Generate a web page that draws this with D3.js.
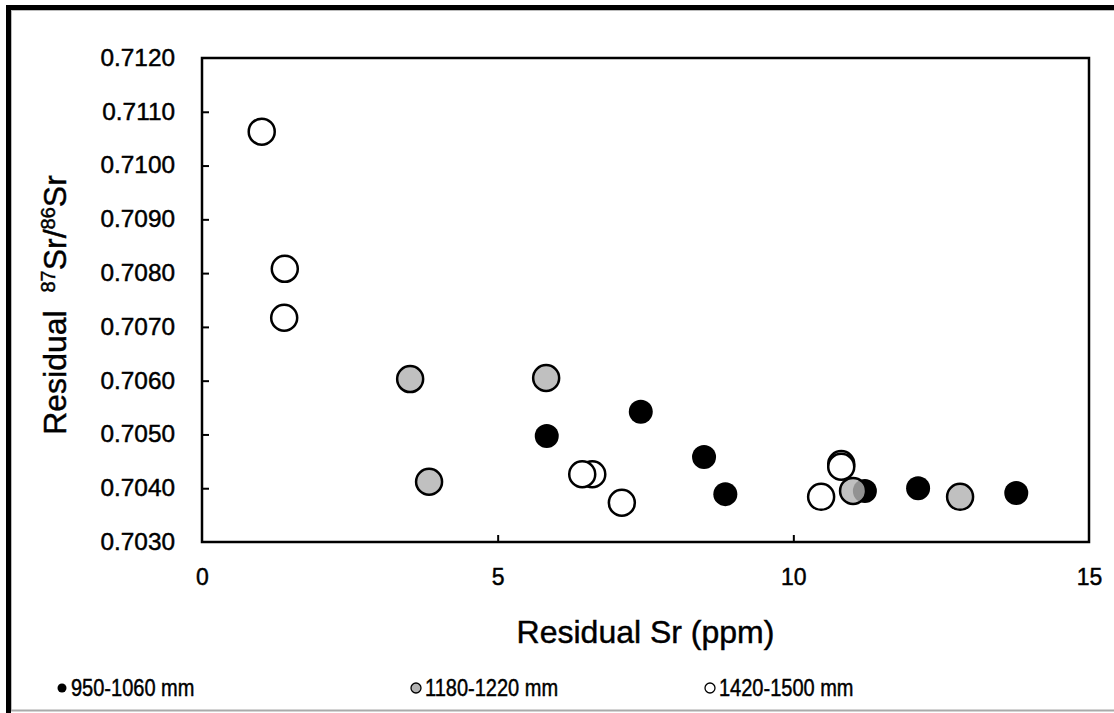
<!DOCTYPE html>
<html><head><meta charset="utf-8">
<script src="https://cdn.jsdelivr.net/npm/d3@7"></script>
<style>body{margin:0;background:#fff;} svg{display:block;} text{font-family:"Liberation Sans",Arial,sans-serif;fill:#000;stroke:#000;stroke-width:0.45px;}</style>
</head><body><svg id="c" width="1114" height="713"></svg>
<script>
const seriesNames = ["950-1060 mm", "1180-1220 mm", "1420-1500 mm"];
const blackX = [5.83, 7.42, 8.49, 8.85, 11.21, 12.11, 13.77];
const blackY = [0.70497, 0.70542, 0.70458, 0.70389, 0.70395, 0.70400, 0.70391];
const grayX = [3.52, 5.82, 3.84, 11.01, 12.82];
const grayY = [0.70603, 0.70605, 0.70412, 0.70395, 0.70384];
const whiteX = [1.01, 1.40, 1.39, 6.60, 6.43, 7.10, 10.47, 10.81, 10.81];
const whiteY = [0.71063, 0.70808, 0.70717, 0.70426, 0.70426, 0.70373, 0.70384, 0.70445, 0.70440];
const xTicks = [0, 5, 10, 15];
const yTicks = [0.7030, 0.7040, 0.7050, 0.7060, 0.7070, 0.7080, 0.7090, 0.7100, 0.7110, 0.7120];

const svg = d3.select("#c");
// outer frame
svg.append("rect").attr("x",0).attr("y",0).attr("width",1114).attr("height",713).attr("fill","#fff");
svg.append("line").attr("x1",11.5).attr("x2",11.5).attr("y1",10).attr("y2",711).attr("stroke","#bbb").attr("stroke-width",1);
svg.append("line").attr("x1",11).attr("x2",1114).attr("y1",710.5).attr("y2",710.5).attr("stroke","#aaa").attr("stroke-width",2);
svg.append("rect").attr("x",6).attr("y",5).attr("width",5).attr("height",708).attr("fill","#000");
svg.append("rect").attr("x",6).attr("y",5).attr("width",1108).attr("height",5).attr("fill","#000");
svg.append("line").attr("x1",11).attr("x2",1114).attr("y1",10.5).attr("y2",10.5).attr("stroke","#bbb").attr("stroke-width",1);

const L = 202, R = 1089, T = 58, B = 542;
const x = d3.scaleLinear().domain([0, 15]).range([L, R]);
const y = d3.scaleLinear().domain([0.7030, 0.7120]).range([B, T]);

// plot box
svg.append("rect").attr("x",L).attr("y",T).attr("width",R-L).attr("height",B-T)
  .attr("fill","none").attr("stroke","#000").attr("stroke-width",2.5);

const yAxis = d3.axisLeft(y).tickValues(yTicks).tickFormat(d3.format(".4f")).tickSizeInner(-7).tickSizeOuter(0).tickPadding(27);
const gy = svg.append("g").attr("transform",`translate(${L},0)`).call(yAxis);
gy.select(".domain").remove();
gy.selectAll(".tick line").attr("stroke","#000").attr("stroke-width",2);
gy.selectAll(".tick text").style("font-size","23px").attr("transform","scale(1.06,1)").attr("x", -27/1.06);
gy.selectAll(".tick").filter(d => d === 0.7030 || d === 0.7120).select("line").remove();

const xAxis = d3.axisBottom(x).tickValues(xTicks).tickFormat(d3.format("d")).tickSizeInner(-7).tickSizeOuter(0).tickPadding(27);
const gx = svg.append("g").attr("transform",`translate(0,${B})`).call(xAxis);
gx.select(".domain").remove();
gx.selectAll(".tick line").attr("stroke","#000").attr("stroke-width",2);
gx.selectAll(".tick text").style("font-size","23px");
gx.selectAll(".tick").filter(d => d === 0 || d === 15).select("line").remove();

// axis titles
svg.append("text").attr("x", (L+R)/2).attr("y", 643).attr("text-anchor","middle")
  .style("font-size","32px").text("Residual Sr (ppm)");
const yt = svg.append("text").attr("transform","translate(66,305) rotate(-90)").attr("text-anchor","middle").style("font-size","32px");
yt.append("tspan").text("Residual\u00a0\u00a0");
yt.append("tspan").attr("dy",-11).style("font-size","20px").text("87");
yt.append("tspan").attr("dy",11).text("Sr/");
yt.append("tspan").attr("dy",-11).style("font-size","20px").text("86");
yt.append("tspan").attr("dy",11).text("Sr");

// points
const styles = [
  {fill:"#000", op:1, stroke:"none", sw:0, r:12},
  {fill:"#b2b2b2", op:0.82, stroke:"#000", sw:2.5, r:13},
  {fill:"#fff", op:1, stroke:"#000", sw:2.5, r:13}
];
const sets = [
  d3.zip(blackX, blackY),
  d3.zip(grayX, grayY),
  d3.zip(whiteX, whiteY)
];
sets.forEach((pts, i) => {
  const s = styles[i];
  svg.append("g").selectAll("circle").data(pts).join("circle")
    .attr("cx", d => x(d[0])).attr("cy", d => y(d[1])).attr("r", s.r)
    .attr("fill", s.fill).attr("fill-opacity", s.op)
    .attr("stroke", s.stroke).attr("stroke-width", s.sw);
});

// legend
const legX = [62, 416, 710];
const lg = svg.append("g");
seriesNames.forEach((n, i) => {
  const s = styles[i];
  lg.append("circle").attr("cx", legX[i]).attr("cy", 688).attr("r", i===0 ? 4.5 : 5)
    .attr("fill", s.fill).attr("stroke", s.stroke).attr("stroke-width", i===0?0:1.3);
  lg.append("text").attr("transform", `translate(${legX[i] + 9},696) scale(0.87,1)`)
    .style("font-size","23px").text(n);
});
</script></body></html>
